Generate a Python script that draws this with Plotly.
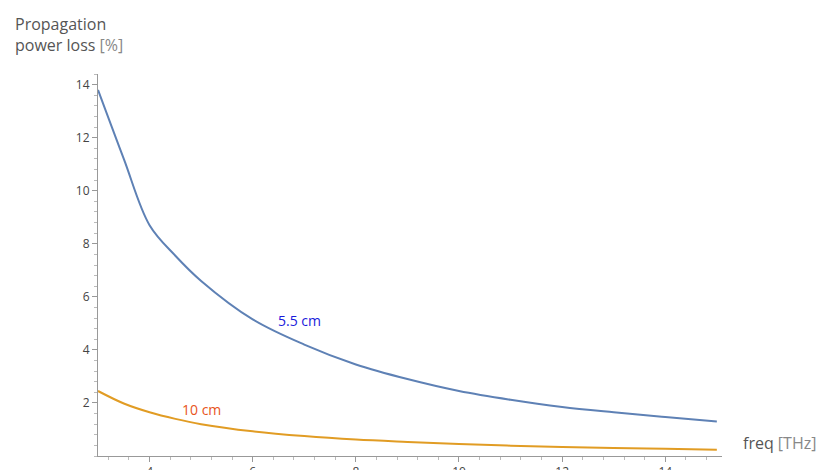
import plotly.graph_objects as go

freq = [3, 3.5, 4, 4.5, 5, 6, 7, 8, 9, 10, 11, 12, 13, 14, 15]
loss_55 = [13.8, 11.2, 8.7, 7.55, 6.6, 5.15, 4.2, 3.45, 2.9, 2.45, 2.12, 1.85, 1.65, 1.47, 1.3]
loss_10 = [2.45, 1.98, 1.65, 1.4, 1.2, 0.93, 0.75, 0.62, 0.53, 0.45, 0.39, 0.34, 0.3, 0.27, 0.24]

fig = go.Figure()
fig.add_trace(go.Scatter(x=freq, y=loss_55, mode="lines", line=dict(color="#5e81b5", width=2, shape="spline")))
fig.add_trace(go.Scatter(x=freq, y=loss_10, mode="lines", line=dict(color="#e19c24", width=2, shape="spline")))

ax = dict(showgrid=False, zeroline=False, showline=True, linecolor="#999", ticks="outside",
          ticklen=5, tickcolor="#999", tickfont=dict(size=12, color="#444"), automargin=False,
          minor=dict(ticks="outside", ticklen=3, tickcolor="#bbb"))
fig.update_xaxes(range=[3, 15.1], tickvals=[4, 6, 8, 10, 12, 14], minor_dtick=0.4, **ax)
fig.update_yaxes(range=[0, 14.4], tickvals=[2, 4, 6, 8, 10, 12, 14], minor_dtick=0.4, **ax)

fig.add_annotation(x=6.9, y=5.1, text="5.5 cm", showarrow=False, font=dict(size=14, color="#1a1adb"))
fig.add_annotation(x=5.0, y=1.75, text="10 cm", showarrow=False, font=dict(size=14, color="#e8541c"))
fig.add_annotation(xref="paper", yref="paper", x=1.03, y=0.0, xanchor="left", yanchor="bottom",
                   text="freq <span style='color:#888'>[THz]</span>", showarrow=False,
                   font=dict(size=16, color="#555"))
fig.add_annotation(xref="paper", yref="paper", x=-0.136, y=1.165, xanchor="left", yanchor="top",
                   text="Propagation<br>power loss <span style='color:#888'>[%]</span>", showarrow=False,
                   align="left", font=dict(size=16, color="#555"))

fig.update_layout(width=831, height=470, showlegend=False, plot_bgcolor="white", paper_bgcolor="white",
                  margin=dict(l=90, r=117, t=66, b=22, autoexpand=False), font=dict(family="Open Sans"))
fig.write_html("out.html")
